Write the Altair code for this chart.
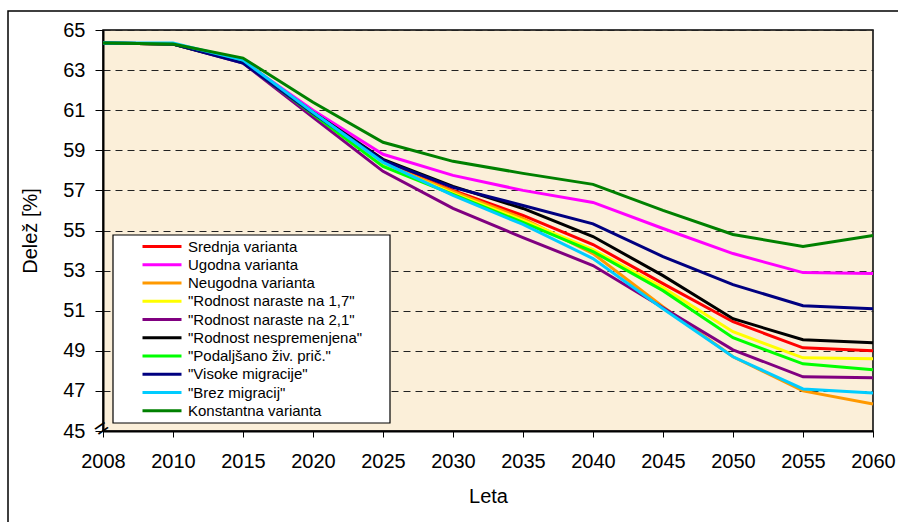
import altair as alt
import pandas as pd

# Years on the horizontal axis (equally spaced categories)
leta = ["2008", "2010", "2015", "2020", "2025", "2030",
        "2035", "2040", "2045", "2050", "2055", "2060"]

# Share of population aged 15-64 (%) per projection variant
srednja      = [64.35, 64.3, 63.4, 60.85, 58.4, 57.0, 55.75, 54.3, 52.35, 50.45, 49.15, 49.0]
ugodna       = [64.35, 64.3, 63.45, 61.0, 58.8, 57.75, 57.0, 56.4, 55.1, 53.85, 52.9, 52.85]
neugodna     = [64.35, 64.3, 63.4, 60.8, 58.35, 56.95, 55.6, 53.85, 51.2, 48.7, 47.0, 46.35]
rodnost_17   = [64.35, 64.3, 63.4, 60.8, 58.3, 56.85, 55.5, 54.05, 52.15, 49.95, 48.65, 48.6]
rodnost_21   = [64.35, 64.3, 63.35, 60.65, 57.95, 56.1, 54.65, 53.25, 51.15, 49.05, 47.7, 47.65]
nespremenjena = [64.35, 64.3, 63.4, 60.9, 58.55, 57.2, 56.1, 54.7, 52.75, 50.6, 49.55, 49.4]
podaljsano   = [64.35, 64.3, 63.4, 60.8, 58.2, 56.8, 55.4, 53.95, 52.0, 49.65, 48.35, 48.05]
visoke_migr  = [64.35, 64.3, 63.35, 60.85, 58.5, 57.15, 56.25, 55.33, 53.7, 52.3, 51.25, 51.1]
brez_migr    = [64.35, 64.35, 63.5, 60.9, 58.4, 56.75, 55.3, 53.6, 51.1, 48.7, 47.1, 46.9]
konstantna   = [64.35, 64.3, 63.6, 61.4, 59.4, 58.45, 57.85, 57.3, 56.0, 54.8, 54.2, 54.75]

variante = [
    "Srednja varianta",
    "Ugodna varianta",
    "Neugodna varianta",
    '"Rodnost naraste na 1,7"',
    '"Rodnost naraste na 2,1"',
    '"Rodnost nespremenjena"',
    '"Podaljšano živ. prič."',
    '"Visoke migracije"',
    '"Brez migracij"',
    "Konstantna varianta",
]
serije = [srednja, ugodna, neugodna, rodnost_17, rodnost_21,
          nespremenjena, podaljsano, visoke_migr, brez_migr, konstantna]
barve = ["#FF0000", "#FF00FF", "#FF9900", "#FFFF00", "#800080",
         "#000000", "#00FF00", "#000080", "#00CCFF", "#008000"]

rows = []
for ime, vrednosti in zip(variante, serije):
    for leto, v in zip(leta, vrednosti):
        rows.append({"Leto": leto, "Delez": v, "Varianta": ime})
df = pd.DataFrame(rows)

FONT = "Liberation Sans"

lines = alt.Chart(df).mark_line(strokeWidth=3).encode(
    x=alt.X(
        "Leto:O",
        sort=leta,
        scale=alt.Scale(type="point", padding=0),
        axis=alt.Axis(
            title="Leta", labelAngle=0, labelFontSize=20, titleFontSize=20,
            labelFont=FONT, titleFont=FONT, titleFontWeight="normal",
            labelColor="#000", titleColor="#000",
            tickSize=6, tickColor="#000", domainColor="#000", domainWidth=2,
            labelPadding=14, titlePadding=15, grid=False,
        ),
    ),
    y=alt.Y(
        "Delez:Q",
        scale=alt.Scale(domain=[45, 65], nice=False, zero=False),
        axis=alt.Axis(
            title="Delež [%]", values=list(range(45, 66, 2)),
            labelFontSize=20, titleFontSize=20, labelFont=FONT, titleFont=FONT,
            titleFontWeight="normal", labelColor="#000", titleColor="#000",
            tickSize=8, tickColor="#000", domainColor="#000", domainWidth=2,
            labelPadding=10, titlePadding=22,
            grid=True, gridDash=[7, 5], gridColor="#222", gridWidth=1,
        ),
    ),
    color=alt.Color(
        "Varianta:N",
        sort=variante,
        scale=alt.Scale(domain=variante, range=barve),
        legend=alt.Legend(
            title=None, orient="none", legendX=49, legendY=206.5,
            padding=0, labelFont=FONT, labelFontSize=15, labelColor="#000",
            symbolType="M-2.294,0H2.294", symbolSize=289, symbolStrokeWidth=3,
            labelOffset=16, rowPadding=0.25, labelLimit=400,
        ),
    ),
)

# white box behind the legend entries
legend_box = alt.Chart(alt.Data(values=[{"k": 0}])).mark_rect(
    fill="white", stroke="#000", strokeWidth=1.2
).encode(
    x=alt.value(10), x2=alt.value(287), y=alt.value(205), y2=alt.value(393)
)

# axis break marker at the bottom of the value axis
axis_break = alt.Chart(alt.Data(values=[{"k": 0}])).mark_text(
    text="=", fontSize=24, angle=325, font=FONT, color="#000"
).encode(x=alt.value(-1), y=alt.value(399))

# outer frame around the whole figure
frame = alt.Chart(alt.Data(values=[{"k": 0}])).mark_rect(
    fill=None, filled=False, stroke="#000", strokeWidth=1.5
).encode(
    x=alt.value(-95), x2=alt.value(830), y=alt.value(-19), y2=alt.value(520)
)

chart = alt.layer(lines, legend_box, axis_break, frame).properties(
    width=770, height=401,
    padding={"left": 103, "top": 30, "right": 25, "bottom": 91},
    autosize="none",
    background="white",
).configure_view(
    fill="#FBEFD9", stroke="#000", strokeWidth=1.5
)

chart.save("out.html", embed_options={"renderer": "svg", "actions": False})
